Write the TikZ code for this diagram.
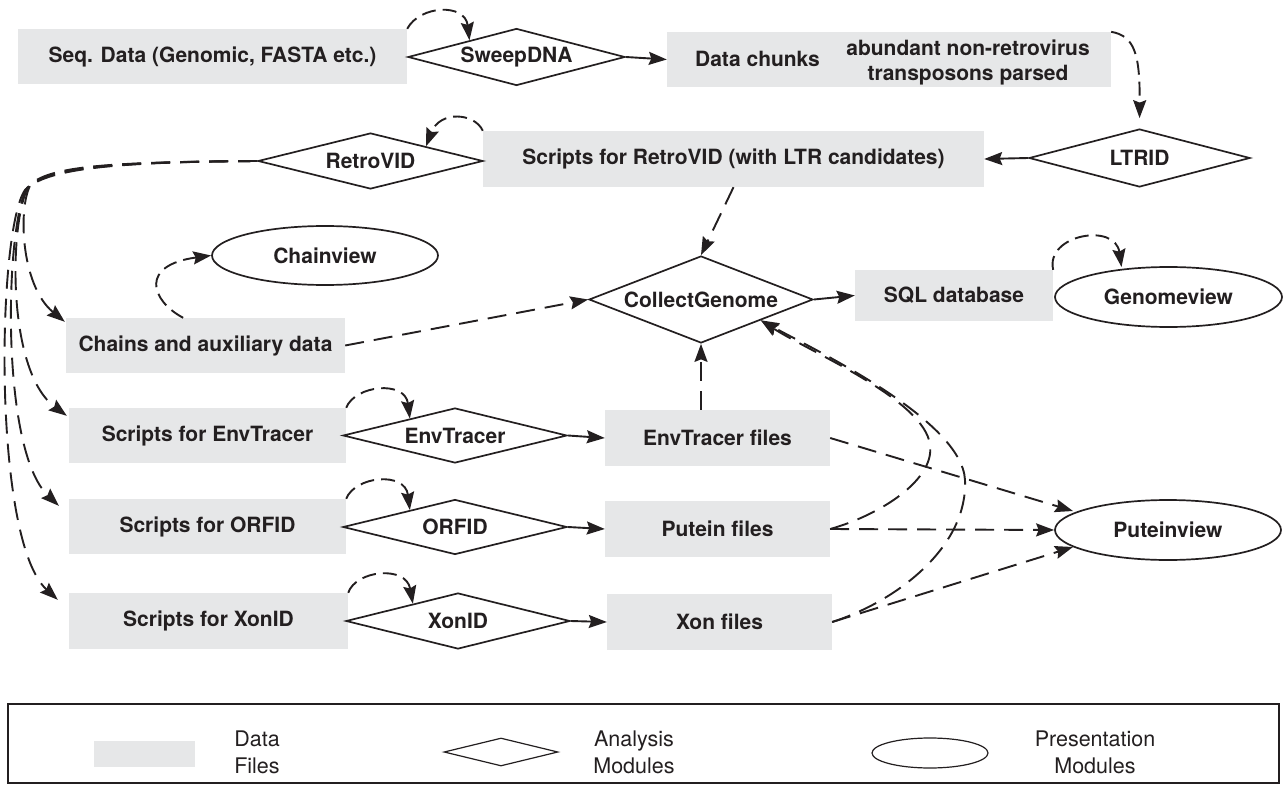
\documentclass[tikz,border=0pt]{standalone}
\usepackage{fontspec}
\setmainfont{TeX Gyre Heros}
\usetikzlibrary{shapes.geometric,arrows.meta,calc}
\definecolor{ink}{HTML}{231F20}
\definecolor{filebox}{HTML}{E6E7E8}
\begin{document}
\begin{tikzpicture}[x=1pt,y=-1pt,
  every node/.style={text=ink, font=\fontsize{21}{25}\selectfont\bfseries},
  databox/.style={rectangle, fill=filebox, inner sep=0pt},
  module/.style={diamond, draw=ink, line width=1.7pt, fill=white, inner sep=0pt, aspect=4},
  viewer/.style={ellipse, draw=ink, line width=1.7pt, fill=white, inner sep=0pt},
  flow/.style={draw=ink, line width=1.9pt, -{Stealth[length=18pt,width=13pt,inset=2.5pt]}},
  dflow/.style={flow, dash pattern=on 19pt off 10pt},
  loopflow/.style={flow, dash pattern=on 14pt off 7pt},
  legendtext/.style={font=\fontsize{21.5}{27}\selectfont, align=center},
]
\useasboundingbox (0,0) rectangle (1283,797);

% ---- data files
\node[databox, minimum width=389pt, minimum height=55pt] (seq) at (212.5,56.5) {Seq. Data (Genomic, FASTA etc.)};
\node[databox, minimum width=444pt, minimum height=55pt] (chunks) at (889,59.5) {};
\node (chunkslabel) at (757.5,59) {Data chunks};
\node[align=center] (chunksnote) at (968,62.5) {abundant non-retrovirus\\transposons parsed};
\node[databox, minimum width=501pt, minimum height=56pt] (scriptsR) at (733.5,159) {Scripts for RetroVID (with LTR candidates)};
\node[databox, minimum width=279pt, minimum height=55pt] (chains) at (205.5,345.5) {Chains and auxiliary data};
\node[databox, minimum width=198pt, minimum height=51pt] (sql) at (954,295.5) {SQL database};
\node[databox, minimum width=277pt, minimum height=55pt] (envS) at (207.5,435.5) {Scripts for EnvTracer};
\node[databox, minimum width=277pt, minimum height=55pt] (orfS) at (207.5,526.5) {Scripts for ORFID};
\node[databox, minimum width=279pt, minimum height=56pt] (xonS) at (208.5,621) {Scripts for XonID};
\node[databox, minimum width=225pt, minimum height=56pt] (envF) at (717.5,438) {EnvTracer files};
\node[databox, minimum width=225pt, minimum height=56pt] (putF) at (717.5,529) {Putein files};
\node[databox, minimum width=225pt, minimum height=56pt] (xonF) at (719.5,622) {Xon files};

% ---- analysis modules
\node[module, minimum width=217pt, minimum height=57pt] (sweep) at (516.5,57) {SweepDNA};
\node[module, minimum width=221pt, minimum height=58pt] (ltrid) at (1139.5,158) {LTRID};
\node[module, minimum width=225pt, minimum height=56pt] (retro) at (370.5,161) {RetroVID};
\node[module, aspect=2.5, minimum width=224pt, minimum height=87pt] (collect) at (701,299.5) {CollectGenome};
\node[module, minimum width=224pt, minimum height=55pt] (envD) at (455,435.5) {EnvTracer};
\node[module, minimum width=224pt, minimum height=55pt] (orfD) at (455,527) {ORFID};
\node[module, minimum width=224pt, minimum height=56pt] (xonD) at (458,621) {XonID};

% ---- presentation modules
\node[viewer, minimum width=226pt, minimum height=59pt] (chainview) at (325,255.5) {Chainview};
\node[viewer, minimum width=227pt, minimum height=60pt] (genome) at (1168.5,297) {Genomeview};
\node[viewer, minimum width=226pt, minimum height=60pt] (putv) at (1168,530) {Puteinview};

% ---- points where connectors meet shape borders
\coordinate (sweepIn) at ($(sweep.west)!0.57!(sweep.north)$);
\coordinate (retroIn) at ($(retro.north)!0.49!(retro.east)$);
\coordinate (envIn) at ($(envD.west)!0.6!(envD.north)$);
\coordinate (orfIn) at ($(orfD.west)!0.6!(orfD.north)$);
\coordinate (xonIn) at ($(xonD.west)!0.6!(xonD.north)$);
\coordinate (genomeIn) at ($(genome.center)+(-47,-30)$);
\coordinate (collectIn) at ($(collect.east)!0.47!(collect.south)$);
\coordinate (chainsIn) at ($(chains.north west)+(-1,4)$);
\coordinate (envSIn) at ($(envS.north west)+(-2,8)$);
\coordinate (orfSIn) at ($(orfS.north west)+(-10,7)$);
\coordinate (xonSIn) at ($(xonS.north west)+(-11,7)$);
\coordinate (chainsOut) at ($(chains.north west)!0.42!(chains.north east)$);
\coordinate (putvUp) at ($(putv.center)+(-95,-19)$);
\coordinate (putvDown) at ($(putv.center)+(-95,17)$);

% ---- solid flows
\draw[flow] (sweep.east) -- (chunks.west);
\draw[flow] (ltrid.west) -- (scriptsR.east);
\draw[flow] (collect.east) -- (sql.west);
\draw[flow] (envD.east) -- (envF.west);
\draw[flow] (orfD.east) -- (putF.west);
\draw[flow] (xonD.east) -- (xonF.west);

% ---- self loops: data handed to the next module
\draw[loopflow] (seq.north east) .. controls (420,5) and (465,3) .. (sweepIn);
\draw[loopflow] (scriptsR.north west) .. controls (475,113) and (440,110) .. (retroIn);
\draw[loopflow] (envS.north east) .. controls (355,385) and (405,380) .. (envIn);
\draw[loopflow] (orfS.north east) .. controls (355,476) and (405,471) .. (orfIn);
\draw[loopflow] (xonS.north east) .. controls (356,570) and (406,565) .. (xonIn);
\draw[loopflow] (sql.north east) .. controls (1045,235) and (1115,222) .. (genomeIn);
\draw[loopflow] (chainsOut) .. controls (150,300) and (140,265) .. (chainview.west);
\draw[loopflow, shorten >=10pt] (chunks.north east) .. controls (1135,36) and (1140,55) .. (ltrid.north);

% ---- RetroVID output fanning out to the script sets
\draw[dflow] (retro.west) .. controls (110,162) and (52,166) .. (31,184)
  .. controls (18,205) and (20,285) .. (chainsIn);
\draw[dflow] (retro.west) .. controls (110,162) and (50,167) .. (29,186)
  .. controls (10,215) and (5,370) .. (envSIn);
\draw[dflow] (retro.west) .. controls (110,162) and (48,168) .. (27,188)
  .. controls (5,225) and (0,450) .. (orfSIn);
\draw[dflow] (retro.west) .. controls (110,162) and (46,169) .. (25,190)
  .. controls (-3,230) and (-8,540) .. (xonSIn);

% ---- into CollectGenome
\draw[dflow] (scriptsR.south) -- (collect.north);
\draw[dflow] (chains.east) -- (collect.west);
\draw[dflow] (collect.south |- envF.north) -- (collect.south);
\draw[dflow] (putF.east) .. controls (880,515) and (935,480) .. (930,445)
  .. controls (925,400) and (810,352) .. (collectIn);
\draw[dflow] (xonF.east) .. controls (900,600) and (968,545) .. (965,480)
  .. controls (962,420) and (815,350) .. (collectIn);

% ---- into Puteinview
\draw[dflow] (envF.east) -- (putvUp);
\draw[dflow] (putF.east) -- (putv.west);
\draw[dflow] (xonF.east) -- (putvDown);

% ---- legend
\node[draw=ink, line width=1.2pt, rectangle, minimum width=1271pt, minimum height=79pt, inner sep=0pt] (legend) at (643.5,743.5) {};
\node[databox, minimum width=101pt, minimum height=26pt] (lgfile) at (144.5,754) {};
\node[legendtext] (lgfiletext) at (257,752.5) {Data\\Files};
\node[module, line width=1.2pt, minimum width=114pt, minimum height=28pt] (lgmod) at (501,752) {};
\node[legendtext] (lgmodtext) at (634,752.5) {Analysis\\Modules};
\node[viewer, line width=1.2pt, minimum width=116pt, minimum height=30pt] (lgview) at (930,753) {};
\node[legendtext] (lgviewtext) at (1095,752.5) {Presentation\\Modules};
\end{tikzpicture}
\end{document}
